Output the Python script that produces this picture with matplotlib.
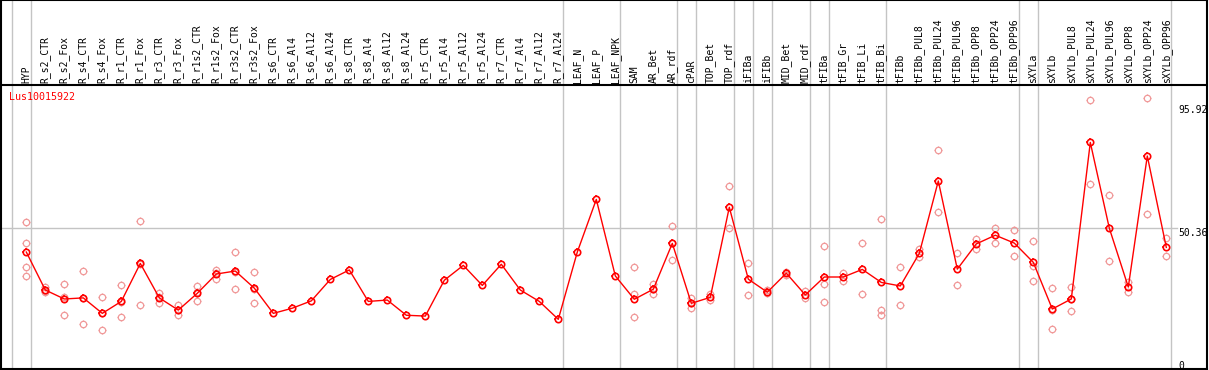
import matplotlib
matplotlib.use("Agg")
import matplotlib.pyplot as plt
from matplotlib.path import Path

# ----------------------------- Data -----------------------------

categories = [
    "HYP", "R_s2_CTR", "R_s2_Fox", "R_s4_CTR", "R_s4_Fox", "R_r1_CTR", "R_r1_Fox",
    "R_r3_CTR", "R_r3_Fox", "R_r1s2_CTR", "R_r1s2_Fox", "R_r3s2_CTR", "R_r3s2_Fox",
    "R_s6_CTR", "R_s6_Al4", "R_s6_Al12", "R_s6_Al24", "R_s8_CTR", "R_s8_Al4",
    "R_s8_Al12", "R_s8_Al24", "R_r5_CTR", "R_r5_Al4", "R_r5_Al12", "R_r5_Al24",
    "R_r7_CTR", "R_r7_Al4", "R_r7_Al12", "R_r7_Al24", "LEAF_N", "LEAF_P", "LEAF_NPK",
    "SAM", "AR_Bet", "AR_rdf", "cPAR", "TOP_Bet", "TOP_rdf", "iFIBa", "iFIBb",
    "MID_Bet", "MID_rdf", "tFIBa", "tFIB_Gr", "tFIB_Li", "tFIB_Bi", "tFIBb",
    "tFIBb_PUL8", "tFIBb_PUL24", "tFIBb_PUL96", "tFIBb_OPP8", "tFIBb_OPP24",
    "tFIBb_OPP96", "sXYLa", "sXYLb", "sXYLb_PUL8", "sXYLb_PUL24", "sXYLb_PUL96",
    "sXYLb_OPP8", "sXYLb_OPP24", "sXYLb_OPP96",
]

mean_vals = [
    41.6, 27.6, 24.3, 24.7, 19.0, 23.4, 37.4, 24.7, 20.2, 26.4, 33.5, 34.6, 28.3,
    19.0, 20.9, 23.6, 31.5, 35.0, 23.4, 23.9, 18.3, 18.0, 31.2, 36.7, 29.3,
    37.1, 27.6, 23.4, 16.8, 41.6, 61.0, 32.8,
    24.2, 27.9, 44.8, 22.7, 24.9, 58.1, 31.6, 26.8, 33.8, 25.8, 32.4, 32.4, 35.2,
    30.4, 29.1, 41.1, 67.8, 35.3, 44.6, 47.8, 44.9, 37.8, 20.6, 24.3, 82.0, 50.4,
    28.7, 77.0, 43.3,
]

rep_vals = [
    [52.6, 44.8, 36.0, 32.7], [28.6, 27.3, 26.8], [29.7, 24.9, 18.3], [34.6, 24.5, 15.0],
    [25.0, 19.2, 12.8], [29.3, 23.2, 17.7], [52.9, 37.3, 22.0], [26.4, 25.0, 22.7],
    [22.2, 20.1, 18.3], [29.1, 26.7, 23.4], [34.9, 33.9, 31.7], [41.6, 34.2, 28.0],
    [34.1, 28.1, 22.7],
    [], [], [], [], [], [], [], [], [], [], [], [], [], [], [], [], [], [], [],
    [36.1, 26.0, 17.5], [29.9, 27.9, 26.0], [51.1, 44.8, 38.6], [24.8, 22.7, 20.9],
    [26.0, 23.9], [65.9, 50.3], [37.4, 25.8], [27.6, 26.4], [34.4, 33.2],
    [27.1, 24.8], [43.7, 29.7, 23.1], [34.0, 31.0], [44.8, 26.0],
    [53.7, 20.1, 18.3], [36.0, 22.0], [42.7, 39.9], [79.2, 56.2], [41.1, 29.3],
    [46.4, 42.7], [50.3, 44.8], [49.6, 40.0], [45.6, 36.6, 30.8],
    [28.2, 20.4, 13.2], [28.6, 24.4, 19.9], [97.5, 66.6], [62.5, 38.2],
    [30.7, 27.0], [98.3, 55.5], [46.7, 40.0],
]

gene = "Lus10015922"
ref_value = 50.36
top_value = 95.92
group_ends = [-1, 0, 28, 31, 34, 35, 37, 38, 39, 41, 42, 45, 52, 53, 60]

# ----------------------------- Plot -----------------------------

RED = "#ff0000"
PALE = "#f09898"
GRID = "#c4c4c4"
MONO = "DejaVu Sans Mono"

# four short ticks around the circle marker
ticks = Path([(0, 0.62), (0, 1), (0, -0.62), (0, -1), (0.62, 0), (1, 0), (-0.62, 0), (-1, 0)],
             [Path.MOVETO, Path.LINETO] * 4)


def draw_markers(ax, xs, ys, color, mew, z):
    ax.plot(xs, ys, linestyle="none", marker="o", ms=4.6, mfc="none",
            mec=color, mew=mew, zorder=z)
    ax.plot(xs, ys, linestyle="none", marker=ticks, ms=6.4, mfc="none",
            mec=color, mew=mew, zorder=z)


fig = plt.figure(figsize=(12.09, 3.70), dpi=100)
ax = fig.add_axes([1 / 1209, 1 / 370, 1206 / 1209, 369 / 370])

x = list(range(len(categories)))
ax.set_xlim(-1.332, 62.142)
ax.set_ylim(-1.51, 134.5)
ax.set_xticks([])
ax.set_yticks([])
for s in ax.spines.values():
    s.set_linewidth(1.5)
    s.set_color("black")

# group separators and reference line
for g in group_ends:
    ax.axvline(g + 0.23, color=GRID, lw=1, zorder=1)
ax.plot([-1.332, 60.56], [ref_value, ref_value], color=GRID, lw=1, zorder=1)
ax.axhline(103.17, color="black", lw=1.5, zorder=5)

# replicates
for i, reps in enumerate(rep_vals):
    if reps:
        draw_markers(ax, [i] * len(reps), reps, PALE, 0.9, 2)

# mean profile
ax.plot(x, mean_vals, color=RED, lw=1, zorder=3)
draw_markers(ax, x, mean_vals, RED, 1.2, 4)

# category labels in the header
for i, c in enumerate(categories):
    ax.text(i, 103.9, c, rotation=90, ha="center", va="bottom",
            fontsize=7, family=MONO, color="black", clip_on=False)

ax.text(-0.91, 98.7, gene, ha="left", va="center", fontsize=7.2,
        family=MONO, color=RED)

# value labels on the right
ax.text(60.62, top_value, f"{top_value:.2f}", ha="left", va="top", fontsize=7, family=MONO)
ax.text(60.62, ref_value, f"{ref_value:.2f}", ha="left", va="top", fontsize=7, family=MONO)
ax.text(60.62, 1.4, "0", ha="left", va="top", fontsize=7, family=MONO)

fig.savefig("out.png", dpi=100)
plt.close("all")
